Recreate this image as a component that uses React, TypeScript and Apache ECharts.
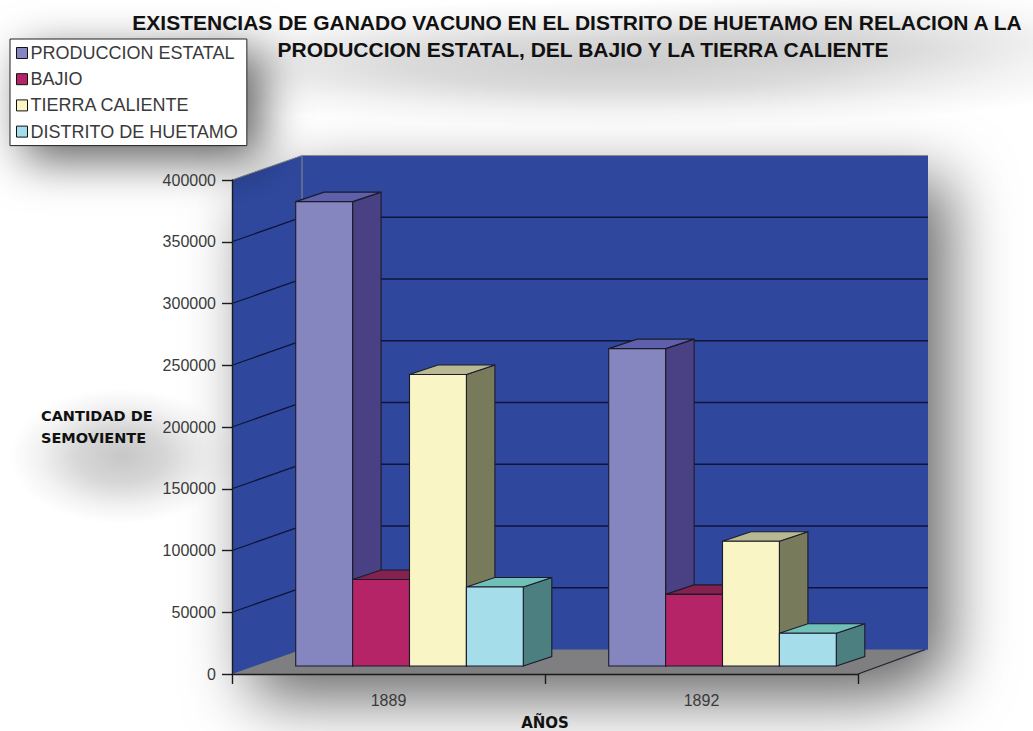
import React, { useEffect, useRef } from "react";
import * as echarts from "echarts";

const years = ["1889", "1892"];
const seriesNames = ["PRODUCCION ESTATAL", "BAJIO", "TIERRA CALIENTE", "DISTRITO DE HUETAMO"];
const produccionEstatal = [376000, 257000];
const bajio = [70000, 58000];
const tierraCaliente = [236000, 101000];
const distritoHuetamo = [64000, 26500];
const yTicks = [50000, 100000, 150000, 200000, 250000, 300000, 350000];

const frontColors = ["#8585C0", "#B62468", "#FAF5C4", "#A6DDEA"];
const topColors = ["#5F60AB", "#85214F", "#B8B893", "#70C0B8"];
const sideColors = ["#4A4084", "#85214F", "#787A5C", "#4C7F80"];

const WALL_DX = 70;
const WALL_DY = 24.5;
const BAR_DX = 28.5;
const BAR_DY = 9.5;
const BAR_LIFT = 8;
const BAR_WIDTH = 56.9;
const GROUP_INSET = 63.7;
const WALL_BLUE = "#2F489D";
const FLOOR_GREY = "#7F7F81";
const EDGE_GREY = "#8A8A8A";
const FONT = "'Liberation Sans', Arial, sans-serif";

function renderWalls(params: any) {
  const { x, y, width, height } = params.coordSys;
  const l = x;
  const r = x + width;
  const t = y;
  const b = y + height;
  const poly = (points: number[][], style: any) => ({ type: "polygon", shape: { points }, style });
  return {
    type: "group",
    children: [
      // silhouette that carries the soft drop shadow of the whole plot box
      poly(
        [[l, t], [l + WALL_DX, t - WALL_DY], [r + WALL_DX, t - WALL_DY], [r + WALL_DX, b - WALL_DY], [r, b], [l, b]],
        { fill: WALL_BLUE, shadowBlur: 64, shadowColor: "rgba(0,0,0,0.6)", shadowOffsetX: 20, shadowOffsetY: 24 }
      ),
      poly([[l, t], [l + WALL_DX, t - WALL_DY], [l + WALL_DX, b - WALL_DY], [l, b]], { fill: WALL_BLUE }),
      poly([[l + WALL_DX, t - WALL_DY], [r + WALL_DX, t - WALL_DY], [r + WALL_DX, b - WALL_DY], [l + WALL_DX, b - WALL_DY]], { fill: WALL_BLUE }),
      poly([[l, b], [l + WALL_DX, b - WALL_DY], [r + WALL_DX, b - WALL_DY], [r, b]], { fill: FLOOR_GREY }),
      { type: "polyline", shape: { points: [[l, t], [l + WALL_DX, t - WALL_DY], [r + WALL_DX, t - WALL_DY]] }, style: { fill: "none", stroke: EDGE_GREY, lineWidth: 1 } },
      { type: "line", shape: { x1: l + WALL_DX, y1: t - WALL_DY, x2: l + WALL_DX, y2: b - WALL_DY }, style: { stroke: EDGE_GREY, lineWidth: 1 } },
      { type: "line", shape: { x1: r, y1: b, x2: r + WALL_DX - 3, y2: b - WALL_DY }, style: { stroke: "#222", lineWidth: 1.2 } },
    ],
  };
}

function renderGridLine(params: any, api: any) {
  const { x, width } = params.coordSys;
  const yPos = api.coord([0, api.value(0)])[1];
  return {
    type: "polyline",
    shape: { points: [[x, yPos], [x + WALL_DX, yPos - WALL_DY], [x + width + WALL_DX, yPos - WALL_DY]] },
    style: { fill: "none", stroke: "#10143A", lineWidth: 1.3 },
  };
}

function makeBarRenderer(index: number) {
  return (_params: any, api: any) => {
    const center = api.coord([api.value(0), 0]);
    const band = api.size([1, 0])[0];
    const left = center[0] - band / 2 + GROUP_INSET + index * BAR_WIDTH;
    const right = left + BAR_WIDTH;
    const bottom = center[1] - BAR_LIFT;
    const top = bottom - api.size([0, api.value(1)])[1];
    const edge = { stroke: "#1B1B2A", lineWidth: 1.1 };
    return {
      type: "group",
      children: [
        { type: "polygon", shape: { points: [[right, top], [right + BAR_DX, top - BAR_DY], [right + BAR_DX, bottom - BAR_DY], [right, bottom]] }, style: { fill: sideColors[index], ...edge } },
        { type: "polygon", shape: { points: [[left, top], [left + BAR_DX, top - BAR_DY], [right + BAR_DX, top - BAR_DY], [right, top]] }, style: { fill: topColors[index], ...edge } },
        { type: "rect", shape: { x: left, y: top, width: BAR_WIDTH, height: bottom - top }, style: { fill: frontColors[index], ...edge } },
      ],
    };
  };
}

// soft grey cloud that sits behind the headings
function haze(cx: number, cy: number, rx: number, ry: number, alpha: number) {
  return {
    type: "ellipse",
    silent: true,
    z: -10,
    shape: { cx, cy, rx, ry },
    style: {
      fill: new echarts.graphic.RadialGradient(0.5, 0.5, 0.5, [
        { offset: 0, color: `rgba(0,0,0,${alpha})` },
        { offset: 0.4, color: `rgba(0,0,0,${alpha * 0.72})` },
        { offset: 0.75, color: `rgba(0,0,0,${alpha * 0.22})` },
        { offset: 1, color: "rgba(0,0,0,0)" },
      ]),
    },
  };
}

const seriesValues = [produccionEstatal, bajio, tierraCaliente, distritoHuetamo];

export default function App() {
  const ref = useRef<HTMLDivElement>(null);
  useEffect(() => {
    const chart = echarts.init(ref.current!, undefined, { renderer: "svg" });
    chart.setOption({
      animation: false,
      backgroundColor: "#fff",
      graphic: [
        haze(620, 64, 540, 64, 0.2),
        haze(860, 32, 300, 46, 0.08),
        haze(122, 456, 112, 68, 0.22),
      ],
      title: [
        {
          text: "EXISTENCIAS DE GANADO VACUNO EN EL DISTRITO DE HUETAMO EN RELACION A LA",
          left: 572, top: 7, textAlign: "center",
          textStyle: { fontFamily: FONT, fontSize: 21, fontWeight: "bold", color: "#111" },
        },
        {
          text: "PRODUCCION ESTATAL, DEL BAJIO Y LA TIERRA CALIENTE",
          left: 578, top: 34, textAlign: "center",
          textStyle: { fontFamily: FONT, fontSize: 21, fontWeight: "bold", color: "#111" },
        },
      ],
      legend: {
        orient: "vertical",
        left: 10, top: 39,
        padding: [5, 9, 5, 6],
        itemWidth: 11, itemHeight: 11, itemGap: 8.2,
        icon: "rect",
        selectedMode: false,
        data: seriesNames,
        backgroundColor: "#fff",
        borderColor: "#222",
        borderWidth: 1,
        shadowColor: "rgba(0,0,0,0.62)",
        shadowBlur: 46,
        shadowOffsetX: 14,
        shadowOffsetY: 14,
        textStyle: { fontFamily: FONT, fontSize: 18, color: "#3a3a3a", padding: [0, 0, 0, -2] },
        itemStyle: { borderColor: "#111", borderWidth: 1 },
      },
      grid: { left: 232, right: 175, top: 180, bottom: 57, outerBoundsMode: "none" },
      xAxis: {
        type: "category",
        data: years,
        z: 10,
        name: "AÑOS",
        nameLocation: "middle",
        nameGap: 41,
        nameTextStyle: { fontFamily: "'DejaVu Sans', sans-serif", fontSize: 15, fontWeight: "bold", color: "#111" },
        axisLine: { show: true, lineStyle: { color: "#1a1a1a", width: 1.4 } },
        axisTick: { show: true, length: 10, lineStyle: { color: "#1a1a1a", width: 1.4 } },
        axisLabel: { fontFamily: FONT, fontSize: 16, color: "#3a3a3a", margin: 18 },
      },
      yAxis: {
        type: "value",
        min: 0, max: 400000, interval: 50000,
        z: 10,
        name: "CANTIDAD DE\nSEMOVIENTE",
        nameLocation: "middle",
        nameRotate: 0,
        nameGap: 191,
        nameTextStyle: { fontFamily: "'DejaVu Sans', sans-serif", fontSize: 14.5, fontWeight: "bold", color: "#111", lineHeight: 22, align: "left" },
        axisLine: { show: true, lineStyle: { color: "#1a1a1a", width: 1.4 } },
        axisTick: { show: true, length: 10, lineStyle: { color: "#1a1a1a", width: 1.4 } },
        axisLabel: { fontFamily: FONT, fontSize: 16, color: "#3a3a3a", margin: 16, formatter: (v: number) => String(v) },
        splitLine: { show: false },
      },
      series: [
        { type: "custom", name: "walls", silent: true, clip: false, z: 1, data: [0], renderItem: renderWalls },
        { type: "custom", name: "gridLines", silent: true, clip: false, z: 2, data: yTicks, encode: { y: 0 }, renderItem: renderGridLine },
        ...seriesNames.map((name, i) => ({
          type: "custom",
          name,
          clip: false,
          z: 3 + i,
          itemStyle: { color: frontColors[i] },
          encode: { x: 0, y: 1 },
          data: seriesValues[i].map((v, c) => [c, v]),
          renderItem: makeBarRenderer(i),
        })),
      ],
    });
    return () => chart.dispose();
  }, []);
  return <div ref={ref} style={{ position: "absolute", left: 0, top: 0, width: 1033, height: 731 }} />;
}
